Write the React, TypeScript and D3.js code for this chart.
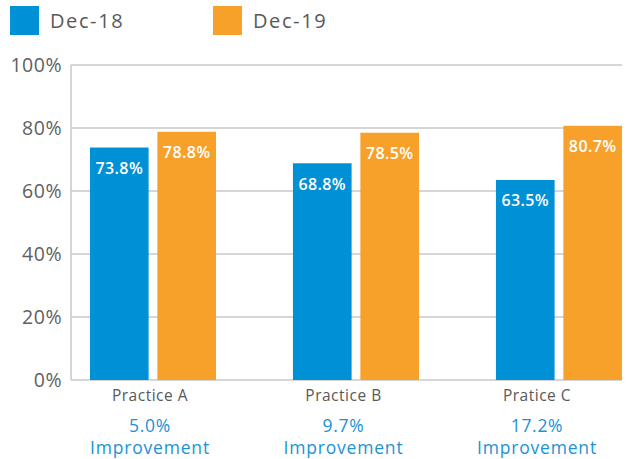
import React from "react";
import * as d3 from "d3";

const categories = ["Practice A", "Practice B", "Pratice C"];
const seriesNames = ["Dec-18", "Dec-19"];
const dec18 = [73.8, 68.8, 63.5];
const dec19 = [78.8, 78.5, 80.7];
const improvements = ["5.0%", "9.7%", "17.2%"];
const yTicks = [0, 20, 40, 60, 80, 100];
const colors = ["#0090D5", "#F8A12A"];

const W = 628;
const H = 459;
const FONT = "'Open Sans', 'DejaVu Sans', sans-serif";

export default function App() {
  const y = d3.scaleLinear().domain([0, 100]).range([380, 65]);
  const x0 = d3
    .scaleBand<string>()
    .domain(categories)
    .range([71, 622])
    .paddingInner(0.379)
    .paddingOuter(0.0467)
    .align(1);
  const x1 = d3
    .scaleBand<string>()
    .domain(seriesNames)
    .range([0, x0.bandwidth()])
    .paddingInner(0.13);
  const xLabel = d3.scalePoint<string>().domain(categories).range([150, 537]);
  const series = [dec18, dec19];

  return (
    <svg
      width={W}
      height={H}
      style={{ position: "absolute", left: 0, top: 0 }}
      fontFamily={FONT}
    >
      {/* legend */}
      {seriesNames.map((s, i) => (
        <g key={s} transform={`translate(${10 + i * 203},6)`}>
          <rect width={29} height={29} fill={colors[i]} />
          <text x={40} y={21.5} fontSize={20} fill="#595959" letterSpacing={1.6}>
            {s}
          </text>
        </g>
      ))}
      {/* gridlines */}
      {yTicks.map((t) => (
        <g key={t}>
          <line
            x1={71}
            x2={622}
            y1={y(t)}
            y2={y(t)}
            stroke="#c8c8c8"
            strokeWidth={1.5}
          />
          <text
            x={62}
            y={y(t)}
            dy="0.36em"
            textAnchor="end"
            fontSize={19.5}
            fill="#5f5f5f"
            letterSpacing={0.5}
          >
            {t}%
          </text>
        </g>
      ))}
      <line x1={71} x2={71} y1={y(100)} y2={y(0)} stroke="#c8c8c8" strokeWidth={1.5} />
      {/* bars */}
      {categories.map((c, ci) => (
        <g key={c} transform={`translate(${x0(c)},0)`}>
          {seriesNames.map((s, si) => {
            const v = series[si][ci];
            const bx = x1(s)!;
            return (
              <g key={s}>
                <rect
                  x={bx}
                  y={y(v)}
                  width={x1.bandwidth()}
                  height={y(0) - y(v)}
                  fill={colors[si]}
                />
                <text
                  x={bx + x1.bandwidth() / 2}
                  y={y(v) + 26.5}
                  textAnchor="middle"
                  fontSize={16}
                  fontWeight={600}
                  fill="#ffffff"
                  letterSpacing={0.4}
                >
                  {v.toFixed(1)}%
                </text>
              </g>
            );
          })}
        </g>
      ))}
      {/* category labels */}
      {categories.map((c, i) => (
        <g key={c}>
          <text
            x={xLabel(c)}
            y={401}
            textAnchor="middle"
            fontSize={15.5}
            fill="#595959"
            letterSpacing={0.5}
          >
            {c}
          </text>
          <text
            x={xLabel(c)}
            y={431.5}
            textAnchor="middle"
            fontSize={17.5}
            fill="#1A93D6"
            letterSpacing={0.7}
          >
            {improvements[i]}
          </text>
          <text
            x={xLabel(c)}
            y={453.5}
            textAnchor="middle"
            fontSize={17.5}
            fill="#1A93D6"
            letterSpacing={0.8}
          >
            Improvement
          </text>
        </g>
      ))}
    </svg>
  );
}
